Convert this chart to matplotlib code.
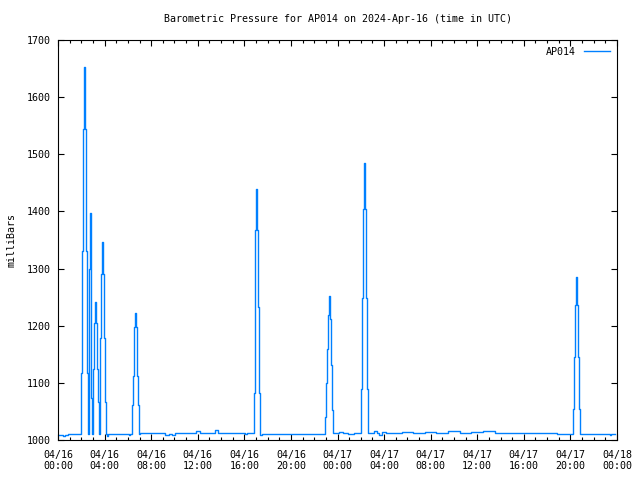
import numpy as np
import matplotlib
matplotlib.use('Agg')
import matplotlib.pyplot as plt

# minutes since 2024-04-16 00:00 UTC, pressure in mbar
base_min = [0, 25, 30, 45, 60, 110, 255, 265, 360, 370, 375,
            430, 540, 565, 580, 595, 610, 700, 725, 740, 800, 815, 830,
            960, 968, 980, 1000, 1055, 1150, 1200, 1330, 1370,
            1440, 1460, 1480, 1510, 1540, 1555,
            1620, 1635, 1650, 1660, 1680, 1700, 1740, 1800, 1860, 1920,
            1980, 2040, 2100, 2160, 2220, 2280, 2340, 2400, 2460, 2500,
            2560, 2580, 2640, 2700, 2770, 2840, 2845, 2850, 2870]
base_mbar = [1009, 1009, 1007, 1008, 1010, 1010, 1007, 1010, 1010, 1008, 1010,
             1012, 1012, 1009, 1011, 1009, 1012, 1012, 1015, 1012, 1012, 1017, 1012,
             1012, 1010, 1012, 1012, 1011, 1011, 1010, 1011, 1010,
             1012, 1013.5, 1012, 1010, 1012, 1012,
             1013, 1015, 1012, 1008, 1014, 1012, 1013, 1014, 1012, 1014,
             1013, 1015, 1013, 1014, 1015, 1012, 1013, 1012, 1012, 1013,
             1013, 1011, 1011, 1010, 1011, 1010, 1009, 1010, 1010]

spike1_min = [115, 120, 125, 130, 135, 140, 145, 150, 155, 160, 165, 170, 175,
              180, 185, 190, 195, 200, 205, 210, 215, 220, 225, 230, 235, 240,
              245, 250]
spike1_mbar = [1010, 1118, 1331, 1544, 1653, 1544, 1331, 1118, 1010, 1300, 1397,
               1204, 1074, 1010, 1125, 1204, 1241, 1204, 1125, 1067, 1010, 1178,
               1290, 1347, 1290, 1178, 1067, 1010]

spike2_min = [380, 385, 390, 395, 400, 405, 410, 415, 420]
spike2_mbar = [1010, 1061, 1112, 1198, 1222, 1198, 1112, 1061, 1011]

spike3_min = [1005, 1010, 1015, 1020, 1025, 1030, 1035, 1040, 1045]
spike3_mbar = [1012, 1082, 1232, 1367, 1439, 1367, 1232, 1082, 1008]

spike4_min = [1375, 1380, 1385, 1390, 1395, 1400, 1405, 1410, 1415, 1420]
spike4_mbar = [1010, 1041, 1099, 1160, 1219, 1252, 1211, 1131, 1052, 1012]

spike5_min = [1560, 1565, 1570, 1575, 1580, 1585, 1590, 1595, 1600]
spike5_mbar = [1012, 1090, 1248, 1405, 1485, 1405, 1248, 1090, 1012]

spike6_min = [2650, 2655, 2660, 2665, 2670, 2675, 2680, 2685, 2690]
spike6_mbar = [1010, 1055, 1146, 1237, 1286, 1237, 1146, 1055, 1010]

tick_hours = [0, 4, 8, 12, 16, 20, 24, 28, 32, 36, 40, 44, 48]
tick_labels = ['04/16\n00:00', '04/16\n04:00', '04/16\n08:00', '04/16\n12:00',
               '04/16\n16:00', '04/16\n20:00', '04/17\n00:00', '04/17\n04:00',
               '04/17\n08:00', '04/17\n12:00', '04/17\n16:00', '04/17\n20:00',
               '04/18\n00:00']

# sve u jedan niz pa sortirati po vremenu
t = np.array(base_min + spike1_min + spike2_min + spike3_min + spike4_min
             + spike5_min + spike6_min, dtype=float)
p = np.array(base_mbar + spike1_mbar + spike2_mbar + spike3_mbar + spike4_mbar
             + spike5_mbar + spike6_mbar, dtype=float)
order = np.argsort(t, kind='stable')
t = t[order] / 60.0
p = p[order]

plt.rcParams['font.family'] = 'DejaVu Sans Mono'
plt.rcParams['font.size'] = 7.2

fig = plt.figure(figsize=(6.4, 4.8), dpi=100)
ax = fig.add_axes([58 / 640, 40 / 480, 559 / 640, 400 / 480])
ax.plot(t, p, color='#0080ff', lw=1.0, drawstyle='steps-mid', label='AP014')

ax.set_xlim(0, 48)
ax.set_ylim(1000, 1700)
ax.set_xticks(tick_hours)
ax.set_xticklabels(tick_labels)
ax.set_xticks(np.arange(0, 49, 1), minor=True)
ax.set_yticks(np.arange(1000, 1701, 100))
ax.tick_params(which='both', direction='in', top=True, right=True, width=0.8)
ax.tick_params(which='major', length=4)
ax.tick_params(axis='x', which='major', pad=7)
ax.tick_params(axis='y', which='major', pad=5)
ax.tick_params(which='minor', length=2)
for s in ax.spines.values():
    s.set_linewidth(0.8)

ax.set_ylabel('milliBars')
ax.yaxis.set_label_coords(-0.075, 0.5)
ax.set_title('Barometric Pressure for AP014 on 2024-Apr-16 (time in UTC)',
             fontsize=7.2, pad=13)
ax.legend(loc='upper right', frameon=False, markerfirst=False, handlelength=2.6,
          borderaxespad=0.3)

fig.savefig('out.png', dpi=100)
